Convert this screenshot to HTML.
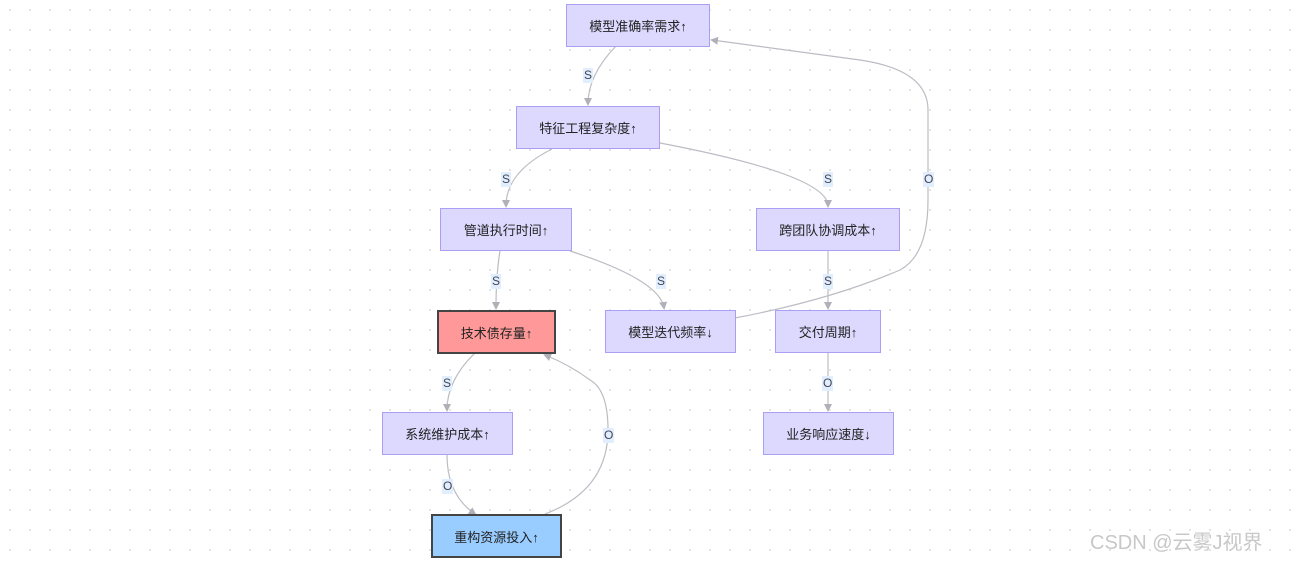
<!DOCTYPE html>
<html><head><meta charset="utf-8"><style>
body{margin:0;width:1302px;height:561px;overflow:hidden;background:#fff;
background-image:radial-gradient(circle,#e2e2e2 1px,transparent 1.2px);background-size:20px 20px;
font-family:"Liberation Sans","Noto Sans CJK SC",sans-serif;position:relative}
.n{position:absolute;box-sizing:border-box;background:#dcd8fe;border:1px solid #a99ff5;display:flex;align-items:center;justify-content:center;font-size:13px;color:#222}
.l{position:absolute;background:#e0eefe;font-size:12px;color:#445;padding:0 1px;line-height:15px}
.wm{position:absolute;left:1090px;top:526px;font-size:20px;color:#c8c8c8}
</style></head><body>
<svg width="1302" height="561" style="position:absolute;left:0;top:0">
<defs><marker id="a" markerWidth="8" markerHeight="8" refX="6" refY="4" orient="auto" markerUnits="userSpaceOnUse"><path d="M0,0L8,4L0,8z" fill="#b0b0b8"/></marker></defs>
<g fill="none" stroke="#bcbcc4" stroke-width="1.2">
<path d="M616,46 Q588,75 588,104" marker-end="url(#a)"/>
<path d="M552,149 Q506,172 506,206" marker-end="url(#a)"/>
<path d="M660,143 Q828,175 828,206" marker-end="url(#a)"/>
<path d="M500,251 Q496,275 496,308" marker-end="url(#a)"/>
<path d="M570,251 Q660,280 664,308" marker-end="url(#a)"/>
<path d="M828,251 L828,308" marker-end="url(#a)"/>
<path d="M735,318 Q830,300 900,270 Q928,255 928,200 L928,110 Q928,70 860,60 L712,40" marker-end="url(#a)"/>
<path d="M475,353 Q447,380 447,410" marker-end="url(#a)"/>
<path d="M828,353 L828,410" marker-end="url(#a)"/>
<path d="M447,455 Q447,495 475,514" marker-end="url(#a)"/>
<path d="M545,514 Q608,490 608,430 Q608,390 590,380 Q570,365 545,355" marker-end="url(#a)"/>
</g></svg>
<div class="n" style="left:566px;top:4px;width:144px;height:43px">模型准确率需求↑</div>
<div class="n" style="left:516px;top:106px;width:144px;height:43px">特征工程复杂度↑</div>
<div class="n" style="left:440px;top:208px;width:132px;height:43px">管道执行时间↑</div>
<div class="n" style="left:756px;top:208px;width:144px;height:43px">跨团队协调成本↑</div>
<div class="n" style="left:437px;top:310px;width:119px;height:44px;background:#ff9999;border:2px solid #444">技术债存量↑</div>
<div class="n" style="left:605px;top:310px;width:131px;height:43px">模型迭代频率↓</div>
<div class="n" style="left:775px;top:310px;width:106px;height:43px">交付周期↑</div>
<div class="n" style="left:382px;top:412px;width:131px;height:43px">系统维护成本↑</div>
<div class="n" style="left:763px;top:412px;width:131px;height:43px">业务响应速度↓</div>
<div class="n" style="left:431px;top:514px;width:131px;height:44px;background:#99ccff;border:2px solid #444">重构资源投入↑</div>
<div class="l" style="left:583px;top:68px">S</div>
<div class="l" style="left:501px;top:172px">S</div>
<div class="l" style="left:823px;top:172px">S</div>
<div class="l" style="left:923px;top:172px">O</div>
<div class="l" style="left:491px;top:274px">S</div>
<div class="l" style="left:656px;top:274px">S</div>
<div class="l" style="left:823px;top:274px">S</div>
<div class="l" style="left:442px;top:376px">S</div>
<div class="l" style="left:822px;top:376px">O</div>
<div class="l" style="left:603px;top:428px">O</div>
<div class="l" style="left:442px;top:479px">O</div>
<div class="wm">CSDN @云雾J视界</div>
</body></html>
